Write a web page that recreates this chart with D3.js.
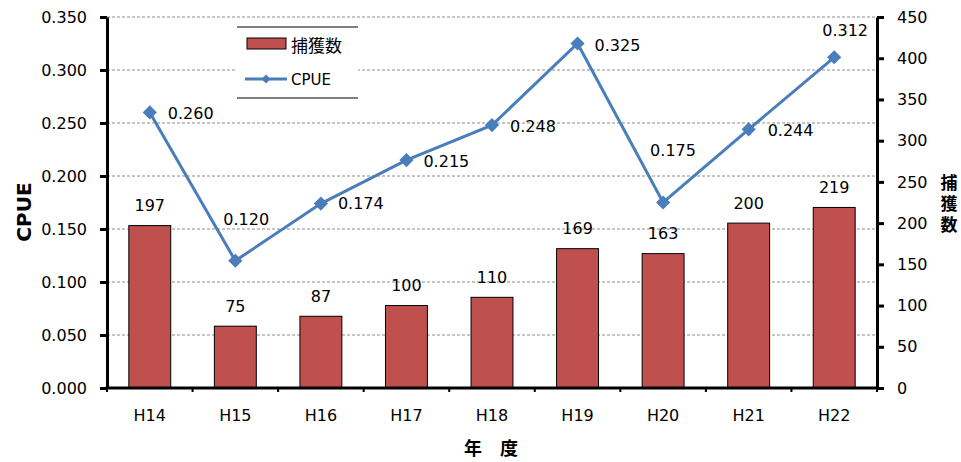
<!DOCTYPE html>
<html>
<head>
<meta charset="utf-8">
<script src="https://cdn.jsdelivr.net/npm/d3@7"></script>
<style>
  body { margin: 0; background: #fff; }
  svg { display: block; }
  text { font-family: "DejaVu Sans", sans-serif; fill: #000; }
  .jp { font-family: "Noto Sans CJK JP", sans-serif; }
</style>
</head>
<body>
<script>
// chart data
var years = ["H14", "H15", "H16", "H17", "H18", "H19", "H20", "H21", "H22"];
var catchCounts = [197, 75, 87, 100, 110, 169, 163, 200, 219];
var cpueValues = [0.260, 0.120, 0.174, 0.215, 0.248, 0.325, 0.175, 0.244, 0.312];
var cpueTicks = [0, 0.05, 0.1, 0.15, 0.2, 0.25, 0.3, 0.35];
var countTicks = [0, 50, 100, 150, 200, 250, 300, 350, 400, 450];

// where each CPUE label sits relative to its point (moved by hand in the original)
var cpueLabelShift = [[18, 1], [-12, -41], [17, 0], [17, 1], [18, 1], [17, 2], [-13, -52], [19, 1], [-12, -27]];

var W = 961, H = 462;
// note: "top" is taken by window.top, so use other names
var pLeft = 107, pRight = 877, pTop = 17, pBottom = 388;
var barColor = "#C0504D", lineColor = "#4A7EBB";

var svg = d3.select("body").append("svg")
    .attr("width", W)
    .attr("height", H);

var x = d3.scaleBand().domain(years).range([pLeft, pRight]).padding(0);
var yL = d3.scaleLinear().domain([0, 0.35]).range([pBottom, pTop]);
var yR = d3.scaleLinear().domain([0, 450]).range([pBottom, pTop]);
var barW = x.bandwidth() * 0.49;

// gridlines
svg.append("g").selectAll("line")
    .data(cpueTicks.filter(function(d) { return d > 0; }))
    .enter().append("line")
    .attr("x1", pLeft).attr("x2", pRight)
    .attr("y1", function(d) { return yL(d); })
    .attr("y2", function(d) { return yL(d); })
    .attr("stroke", "#8c8c8c")
    .attr("stroke-width", 1)
    .attr("stroke-dasharray", "3,2");

// bars
svg.append("g").selectAll("rect")
    .data(catchCounts)
    .enter().append("rect")
    .attr("x", function(d, i) { return x(years[i]) + x.bandwidth() / 2 - barW / 2; })
    .attr("y", function(d) { return yR(d); })
    .attr("width", barW)
    .attr("height", function(d) { return pBottom - yR(d); })
    .attr("fill", barColor)
    .attr("stroke", "#000")
    .attr("stroke-width", 1);

// bar labels
svg.append("g").selectAll("text")
    .data(catchCounts)
    .enter().append("text")
    .attr("x", function(d, i) { return x(years[i]) + x.bandwidth() / 2; })
    .attr("y", function(d) { return yR(d) - 20; })
    .attr("text-anchor", "middle")
    .attr("dominant-baseline", "central")
    .attr("font-size", 16)
    .text(function(d) { return d; });

// left axis
var axL = svg.append("g")
    .attr("transform", "translate(" + pLeft + ",0)")
    .call(d3.axisLeft(yL).tickValues(cpueTicks).tickFormat(d3.format(".3f"))
        .tickSize(7).tickSizeOuter(0).tickPadding(13));
// right axis
var axR = svg.append("g")
    .attr("transform", "translate(" + pRight + ",0)")
    .call(d3.axisRight(yR).tickValues(countTicks).tickFormat(d3.format("d"))
        .tickSize(7).tickSizeOuter(0).tickPadding(13));

[axL, axR].forEach(function(ax) {
    ax.select(".domain").attr("stroke", "#000").attr("stroke-width", 3);
    ax.selectAll(".tick line").attr("stroke", "#000").attr("stroke-width", 3);
    ax.selectAll(".tick text").attr("font-size", 16).attr("font-family", "DejaVu Sans").attr("fill", "#000");
});

// x axis
svg.append("line")
    .attr("x1", pLeft - 1.5).attr("x2", pRight + 1.5)
    .attr("y1", pBottom).attr("y2", pBottom)
    .attr("stroke", "#000").attr("stroke-width", 3);
svg.append("g").selectAll("line")
    .data(years.concat(["end"]))
    .enter().append("line")
    .attr("x1", function(d, i) { return pLeft + i * x.step(); })
    .attr("x2", function(d, i) { return pLeft + i * x.step(); })
    .attr("y1", pBottom).attr("y2", pBottom + 4)
    .attr("stroke", "#000").attr("stroke-width", 2);
svg.append("g").selectAll("text")
    .data(years)
    .enter().append("text")
    .attr("x", function(d) { return x(d) + x.bandwidth() / 2; })
    .attr("y", 415)
    .attr("text-anchor", "middle")
    .attr("dominant-baseline", "central")
    .attr("font-size", 16)
    .text(function(d) { return d; });

// CPUE line
var pts = cpueValues.map(function(v, i) { return [x(years[i]) + x.bandwidth() / 2, yL(v)]; });
svg.append("path")
    .attr("d", d3.line()(pts))
    .attr("fill", "none")
    .attr("stroke", lineColor)
    .attr("stroke-width", 3);
var diamond = d3.symbol().type(d3.symbolSquare).size(100);
svg.append("g").selectAll("path")
    .data(pts)
    .enter().append("path")
    .attr("d", diamond)
    .attr("transform", function(d) { return "translate(" + d[0] + "," + d[1] + ") rotate(45)"; })
    .attr("fill", lineColor);
svg.append("g").selectAll("text")
    .data(cpueValues)
    .enter().append("text")
    .attr("x", function(d, i) { return pts[i][0] + cpueLabelShift[i][0]; })
    .attr("y", function(d, i) { return pts[i][1] + cpueLabelShift[i][1]; })
    .attr("dominant-baseline", "central")
    .attr("font-size", 16)
    .text(function(d) { return d3.format(".3f")(d); });

// legend
var lg = svg.append("g");
lg.append("rect").attr("x", 237).attr("y", 27).attr("width", 121).attr("height", 71).attr("fill", "#fff");
lg.append("line").attr("x1", 237).attr("x2", 358).attr("y1", 27).attr("y2", 27).attr("stroke", "#000");
lg.append("line").attr("x1", 237).attr("x2", 358).attr("y1", 98).attr("y2", 98).attr("stroke", "#000");
lg.append("rect").attr("x", 247).attr("y", 38).attr("width", 39).attr("height", 11)
    .attr("fill", barColor).attr("stroke", "#000").attr("stroke-width", 1);
lg.append("text").attr("class", "jp").attr("x", 291).attr("y", 44)
    .attr("dominant-baseline", "central").attr("font-size", 17).text("捕獲数");
lg.append("line").attr("x1", 245).attr("x2", 287).attr("y1", 79).attr("y2", 79)
    .attr("stroke", lineColor).attr("stroke-width", 3);
lg.append("path").attr("d", d3.symbol().type(d3.symbolSquare).size(40))
    .attr("transform", "translate(266,79) rotate(45)").attr("fill", lineColor);
lg.append("text").attr("x", 291).attr("y", 80)
    .attr("dominant-baseline", "central").attr("font-size", 15).text("CPUE");

// axis titles
svg.append("text")
    .attr("transform", "translate(24,212) rotate(-90)")
    .attr("text-anchor", "middle")
    .attr("dominant-baseline", "central")
    .attr("font-size", 20)
    .attr("font-weight", "bold")
    .text("CPUE");
svg.append("text")
    .attr("class", "jp")
    .attr("x", 491).attr("y", 447)
    .attr("text-anchor", "middle")
    .attr("dominant-baseline", "central")
    .attr("font-size", 18)
    .attr("font-weight", "bold")
    .text("年　度");
// right title, set vertically as one text
svg.append("text")
    .attr("class", "jp")
    .attr("x", 949)
    .attr("y", 206)
    .style("writing-mode", "vertical-rl")
    .attr("text-anchor", "middle")
    .attr("font-size", 17)
    .attr("font-weight", "bold")
    .attr("letter-spacing", 4)
    .text("捕獲数");
</script>
</body>
</html>
